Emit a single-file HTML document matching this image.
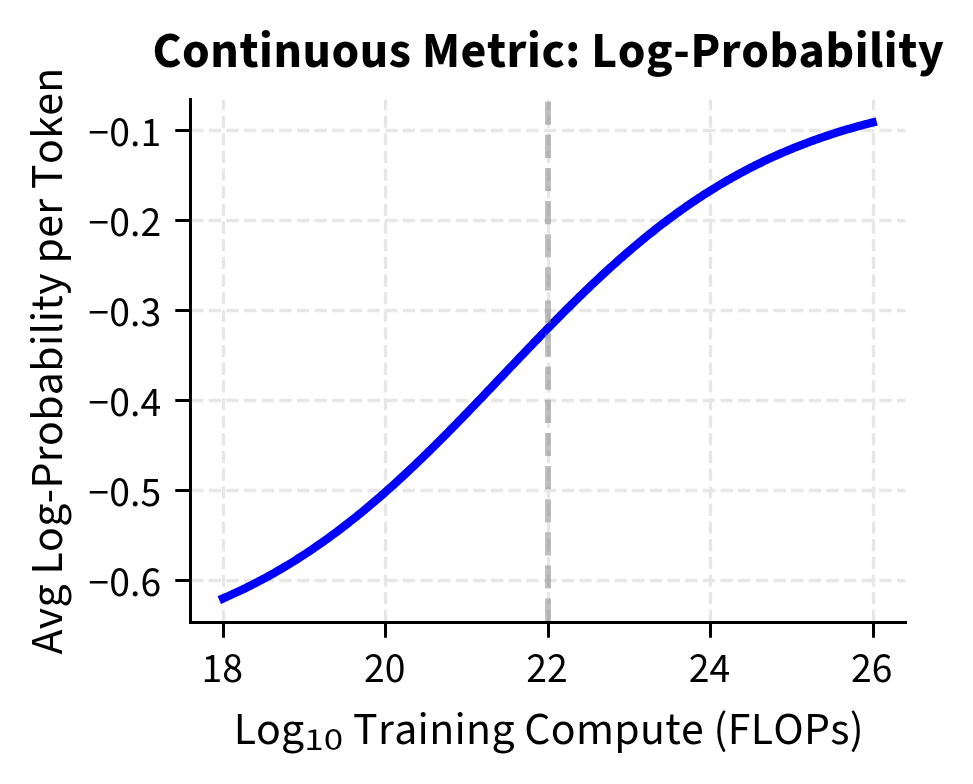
<!DOCTYPE html>
<html><head><meta charset="utf-8"><title>Continuous Metric: Log-Probability</title><style>html,body{margin:0;padding:0;background:#fff;overflow:hidden}svg{display:block}</style></head><body>
<svg width="973" height="784" viewBox="0 0 973 784">
<rect width="973" height="784" fill="#fff"/>
<g stroke="#e7e7e7" stroke-width="3.33" stroke-dasharray="12.32 5.33" stroke-dashoffset="-0.5" fill="none">
<path d="M190.50 580.50H905.50"/>
<path d="M190.50 490.50H905.50"/>
<path d="M190.50 400.50H905.50"/>
<path d="M190.50 310.50H905.50"/>
<path d="M190.50 220.50H905.50"/>
<path d="M190.50 130.50H905.50"/>
<path d="M223.50 622.50V99.40"/>
<path d="M385.50 622.50V99.40"/>
<path d="M548.50 622.50V99.40"/>
<path d="M710.50 622.50V99.40"/>
<path d="M873.50 622.50V99.40"/>
</g>
<polyline points="223.10,598.40 224.73,597.69 226.36,596.98 227.98,596.25 229.61,595.53 231.24,594.79 232.87,594.05 234.50,593.30 236.12,592.55 237.75,591.79 239.38,591.02 241.01,590.24 242.63,589.46 244.26,588.67 245.89,587.88 247.52,587.08 249.15,586.27 250.77,585.45 252.40,584.63 254.03,583.80 255.66,582.96 257.29,582.12 258.91,581.27 260.54,580.41 262.17,579.54 263.80,578.67 265.42,577.79 267.05,576.90 268.68,576.01 270.31,575.11 271.94,574.20 273.56,573.28 275.19,572.36 276.82,571.42 278.45,570.49 280.08,569.54 281.70,568.59 283.33,567.62 284.96,566.66 286.59,565.68 288.21,564.70 289.84,563.70 291.47,562.71 293.10,561.70 294.73,560.68 296.35,559.66 297.98,558.63 299.61,557.60 301.24,556.55 302.87,555.50 304.49,554.44 306.12,553.37 307.75,552.29 309.38,551.21 311.00,550.12 312.63,549.02 314.26,547.91 315.89,546.80 317.52,545.67 319.14,544.54 320.77,543.41 322.40,542.26 324.03,541.11 325.66,539.94 327.28,538.77 328.91,537.60 330.54,536.41 332.17,535.22 333.80,534.02 335.42,532.81 337.05,531.60 338.68,530.37 340.31,529.14 341.93,527.90 343.56,526.66 345.19,525.40 346.82,524.14 348.45,522.87 350.07,521.59 351.70,520.31 353.33,519.02 354.96,517.72 356.59,516.41 358.21,515.09 359.84,513.77 361.47,512.44 363.10,511.10 364.72,509.76 366.35,508.41 367.98,507.05 369.61,505.68 371.24,504.31 372.86,502.92 374.49,501.54 376.12,500.14 377.75,498.74 379.38,497.33 381.00,495.91 382.63,494.49 384.26,493.06 385.89,491.62 387.51,490.18 389.14,488.73 390.77,487.27 392.40,485.81 394.03,484.34 395.65,482.86 397.28,481.37 398.91,479.88 400.54,478.39 402.17,476.89 403.79,475.38 405.42,473.86 407.05,472.34 408.68,470.82 410.31,469.28 411.93,467.74 413.56,466.20 415.19,464.65 416.82,463.09 418.44,461.53 420.07,459.97 421.70,458.39 423.33,456.82 424.96,455.23 426.58,453.65 428.21,452.05 429.84,450.46 431.47,448.85 433.10,447.25 434.72,445.63 436.35,444.02 437.98,442.40 439.61,440.77 441.23,439.14 442.86,437.51 444.49,435.87 446.12,434.23 447.75,432.58 449.37,430.93 451.00,429.28 452.63,427.62 454.26,425.96 455.89,424.30 457.51,422.63 459.14,420.96 460.77,419.28 462.40,417.61 464.02,415.93 465.65,414.25 467.28,412.56 468.91,410.87 470.54,409.18 472.16,407.49 473.79,405.80 475.42,404.10 477.05,402.40 478.68,400.70 480.30,399.00 481.93,397.30 483.56,395.59 485.19,393.89 486.81,392.18 488.44,390.47 490.07,388.76 491.70,387.05 493.33,385.34 494.95,383.63 496.58,381.91 498.21,380.20 499.84,378.49 501.47,376.77 503.09,375.06 504.72,373.35 506.35,371.63 507.98,369.92 509.61,368.21 511.23,366.50 512.86,364.78 514.49,363.07 516.12,361.36 517.74,359.65 519.37,357.95 521.00,356.24 522.63,354.53 524.26,352.83 525.88,351.13 527.51,349.43 529.14,347.73 530.77,346.03 532.40,344.34 534.02,342.64 535.65,340.95 537.28,339.27 538.91,337.58 540.53,335.90 542.16,334.22 543.79,332.54 545.42,330.87 547.05,329.19 548.67,327.53 550.30,325.86 551.93,324.20 553.56,322.54 555.19,320.89 556.81,319.24 558.44,317.59 560.07,315.95 561.70,314.31 563.32,312.67 564.95,311.04 566.58,309.42 568.21,307.79 569.84,306.18 571.46,304.56 573.09,302.95 574.72,301.35 576.35,299.75 577.98,298.16 579.60,296.57 581.23,294.98 582.86,293.41 584.49,291.83 586.11,290.26 587.74,288.70 589.37,287.15 591.00,285.59 592.63,284.05 594.25,282.51 595.88,280.97 597.51,279.45 599.14,277.92 600.77,276.41 602.39,274.90 604.02,273.39 605.65,271.89 607.28,270.40 608.91,268.92 610.53,267.44 612.16,265.97 613.79,264.50 615.42,263.04 617.04,261.59 618.67,260.14 620.30,258.71 621.93,257.27 623.56,255.85 625.18,254.43 626.81,253.02 628.44,251.61 630.07,250.22 631.70,248.83 633.32,247.44 634.95,246.07 636.58,244.70 638.21,243.34 639.83,241.98 641.46,240.64 643.09,239.30 644.72,237.97 646.35,236.64 647.97,235.33 649.60,234.02 651.23,232.71 652.86,231.42 654.49,230.13 656.11,228.85 657.74,227.58 659.37,226.32 661.00,225.06 662.62,223.81 664.25,222.57 665.88,221.34 667.51,220.11 669.14,218.90 670.76,217.69 672.39,216.48 674.02,215.29 675.65,214.10 677.28,212.92 678.90,211.75 680.53,210.59 682.16,209.43 683.79,208.29 685.41,207.15 687.04,206.01 688.67,204.89 690.30,203.77 691.93,202.66 693.55,201.56 695.18,200.47 696.81,199.38 698.44,198.30 700.07,197.23 701.69,196.17 703.32,195.12 704.95,194.07 706.58,193.03 708.21,192.00 709.83,190.98 711.46,189.96 713.09,188.95 714.72,187.95 716.34,186.96 717.97,185.97 719.60,184.99 721.23,184.02 722.86,183.06 724.48,182.10 726.11,181.15 727.74,180.21 729.37,179.28 731.00,178.36 732.62,177.44 734.25,176.53 735.88,175.62 737.51,174.73 739.13,173.84 740.76,172.95 742.39,172.08 744.02,171.21 745.65,170.35 747.27,169.50 748.90,168.65 750.53,167.82 752.16,166.98 753.79,166.16 755.41,165.34 757.04,164.53 758.67,163.73 760.30,162.93 761.92,162.14 763.55,161.36 765.18,160.58 766.81,159.81 768.44,159.05 770.06,158.29 771.69,157.54 773.32,156.80 774.95,156.06 776.58,155.33 778.20,154.61 779.83,153.89 781.46,153.18 783.09,152.48 784.72,151.78 786.34,151.09 787.97,150.40 789.60,149.72 791.23,149.05 792.85,148.39 794.48,147.72 796.11,147.07 797.74,146.42 799.37,145.78 800.99,145.14 802.62,144.51 804.25,143.89 805.88,143.27 807.51,142.66 809.13,142.05 810.76,141.45 812.39,140.85 814.02,140.26 815.64,139.68 817.27,139.10 818.90,138.53 820.53,137.96 822.16,137.40 823.78,136.84 825.41,136.29 827.04,135.74 828.67,135.20 830.30,134.67 831.92,134.14 833.55,133.61 835.18,133.09 836.81,132.58 838.43,132.07 840.06,131.56 841.69,131.06 843.32,130.57 844.95,130.08 846.57,129.60 848.20,129.11 849.83,128.64 851.46,128.17 853.09,127.70 854.71,127.24 856.34,126.79 857.97,126.33 859.60,125.89 861.22,125.44 862.85,125.00 864.48,124.57 866.11,124.14 867.74,123.72 869.36,123.29 870.99,122.88 872.62,122.47" fill="none" stroke="#0000ff" stroke-width="8.33" stroke-linecap="square" stroke-linejoin="round"/>
<path d="M548.00 621.70V99.40" stroke="#808080" stroke-opacity="0.5" stroke-width="6.00" stroke-dasharray="23.125 10.000" fill="none"/>
<path d="M190.50 99.40V622.50H905.50" stroke="#000" stroke-width="3.00" fill="none" stroke-linecap="square" stroke-linejoin="miter"/>
<path d="M190.50 580.50h-15.20M190.50 490.50h-15.20M190.50 400.50h-15.20M190.50 310.50h-15.20M190.50 220.50h-15.20M190.50 130.50h-15.20M223.50 622.50v15.20M385.50 622.50v15.20M548.50 622.50v15.20M710.50 622.50v15.20M873.50 622.50v15.20" stroke="#000" stroke-width="3.00" fill="none"/>
<g style="font-kerning:none;font-size-adjust:0.486" font-family="'Source Sans 3','Noto Sans CJK JP','Liberation Sans',sans-serif" fill="#000">
<text x="161.10" y="595.80" font-size="41.67" text-anchor="end">−0.6</text>
<text x="161.10" y="505.82" font-size="41.67" text-anchor="end">−0.5</text>
<text x="161.10" y="415.84" font-size="41.67" text-anchor="end">−0.4</text>
<text x="161.10" y="325.86" font-size="41.67" text-anchor="end">−0.3</text>
<text x="161.10" y="235.88" font-size="41.67" text-anchor="end">−0.2</text>
<text x="161.10" y="145.90" font-size="41.67" text-anchor="end">−0.1</text>
<text x="222.30" y="682.00" font-size="41.67" text-anchor="middle">18</text>
<text x="384.68" y="682.00" font-size="41.67" text-anchor="middle">20</text>
<text x="547.06" y="682.00" font-size="41.67" text-anchor="middle">22</text>
<text x="709.44" y="682.00" font-size="41.67" text-anchor="middle">24</text>
<text x="871.82" y="682.00" font-size="41.67" text-anchor="middle">26</text>
<text x="233.85" y="744.00" font-size="45.83">Log</text>
<text x="304.20" y="750.00" font-size="32.08" textLength="38.90" lengthAdjust="spacingAndGlyphs">10</text>
<text x="353.10" y="744.00" font-size="45.83" textLength="510.50" lengthAdjust="spacing">Training Compute (FLOPs)</text>
<text transform="rotate(-90)" x="-654.50" y="62.00" font-size="45.83" textLength="586.90" lengthAdjust="spacing">Avg Log-Probability per Token</text>
<text x="152.40" y="67.00" font-size="50.00" textLength="791.50" lengthAdjust="spacing" font-weight="700" style="font-size-adjust:0.496">Continuous Metric: Log-Probability</text>
</g></svg>
</body></html>
